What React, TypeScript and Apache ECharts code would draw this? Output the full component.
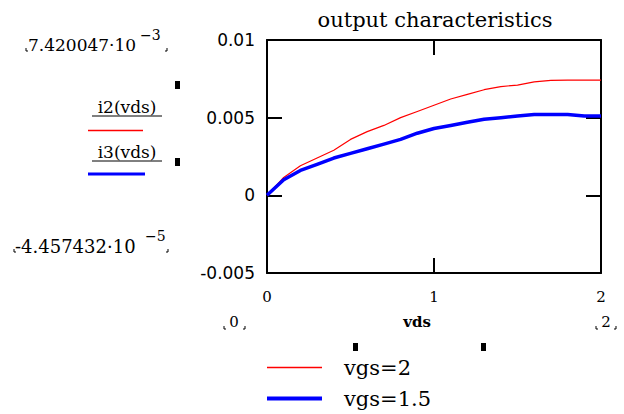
import React, { useEffect, useRef } from "react";
import * as echarts from "echarts";

const vds = [0, 0.1, 0.2, 0.3, 0.4, 0.5, 0.6, 0.7, 0.8, 0.9, 1.0, 1.1, 1.2, 1.3, 1.4, 1.5, 1.6, 1.7, 1.8, 1.9, 2.0];
const i2 = [0, 0.00115, 0.0019, 0.0024, 0.0029, 0.0036, 0.0041, 0.0045, 0.005, 0.0054, 0.0058, 0.0062, 0.0065, 0.0068, 0.007, 0.0071, 0.0073, 0.0074, 0.00742, 0.00742, 0.00742];
const i3 = [0, 0.001, 0.0016, 0.002, 0.0024, 0.0027, 0.003, 0.0033, 0.0036, 0.004, 0.0043, 0.0045, 0.0047, 0.0049, 0.005, 0.0051, 0.0052, 0.0052, 0.0052, 0.0051, 0.0051];
const seriesNames = ["vgs=2", "vgs=1.5"];
const traceNames = ["i2(vds)", "i3(vds)"];
const titleText = "output characteristics";
const xName = "vds";
const yMaxMant = "7.420047·10";
const yMaxExp = "−3";
const yMinMant = "-4.457432·10";
const yMinExp = "−5";
const xRangeLabels = ["0", "2"];

const SERIF = "DejaVu Serif";
const SANS = "DejaVu Sans";

function corner(x: number, y: number, left: boolean) {
  return {
    type: "polyline",
    shape: {
      points: left
        ? [[x, y - 3], [x, y], [x + 2, y]]
        : [[x - 2, y], [x, y], [x, y - 3]],
    },
    style: { stroke: "#000", lineWidth: 1, fill: null },
  };
}

export default function App() {
  const ref = useRef<HTMLDivElement>(null);
  useEffect(() => {
    if (!ref.current) return;
    const chart = echarts.init(ref.current, null, { renderer: "svg" });
    const axisLine = { show: true, onZero: false, lineStyle: { color: "#000", width: 2 } };
    const tick = { show: true, inside: true, length: 15, lineStyle: { color: "#000", width: 2 } };
    chart.setOption({
      animation: false,
      backgroundColor: "#fff",
      title: {
        text: titleText,
        left: 430,
        textAlign: "center",
        top: 4,
        textStyle: { fontFamily: SERIF, fontSize: 21, fontWeight: "normal", color: "#000" },
      },
      grid: { left: 267, right: 23, top: 40, bottom: 141 },
      legend: {
        orient: "vertical",
        left: 265,
        top: 357,
        itemWidth: 55,
        itemHeight: 20,
        itemGap: 10,
        padding: 0,
        data: [
          { name: seriesNames[0], itemStyle: { opacity: 0 }, lineStyle: { width: 1.5, color: "#ff0000" } },
          { name: seriesNames[1], itemStyle: { opacity: 0 }, lineStyle: { width: 4, color: "#0000ff" } },
        ],
        textStyle: { fontFamily: SERIF, fontSize: 21, color: "#000", padding: [0, 0, 0, 17] },
      },
      xAxis: [
        {
          type: "value",
          min: 0,
          max: 2,
          interval: 1,
          axisLine,
          axisTick: tick,
          splitLine: { show: false },
          axisLabel: { margin: 16, fontFamily: SERIF, fontSize: 15, color: "#000" },
        },
        {
          type: "value",
          position: "top",
          min: 0,
          max: 2,
          interval: 1,
          axisLine,
          axisTick: tick,
          splitLine: { show: false },
          axisLabel: { show: false },
        },
      ],
      yAxis: [
        {
          type: "value",
          min: -0.005,
          max: 0.01,
          interval: 0.005,
          axisLine,
          axisTick: tick,
          splitLine: { show: false },
          axisLabel: {
            margin: 12,
            fontFamily: SANS,
            fontSize: 17,
            color: "#000",
            formatter: (v: number) => String(+v.toFixed(3)),
          },
        },
        {
          type: "value",
          position: "right",
          min: -0.005,
          max: 0.01,
          interval: 0.005,
          axisLine,
          axisTick: tick,
          splitLine: { show: false },
          axisLabel: { show: false },
        },
      ],
      series: [
        {
          name: seriesNames[0],
          type: "line",
          data: vds.map((x, k) => [x, i2[k]]),
          symbol: "none",
          lineStyle: { color: "#ff0000", width: 1.2 },
          itemStyle: { color: "#ff0000" },
          z: 3,
        },
        {
          name: seriesNames[1],
          type: "line",
          data: vds.map((x, k) => [x, i3[k]]),
          symbol: "none",
          lineStyle: { color: "#0000ff", width: 3.5 },
          itemStyle: { color: "#0000ff" },
          z: 4,
        },
      ],
      graphic: [
        { type: "text", x: 28, y: 45, style: { text: yMaxMant, font: `17px '${SERIF}'`, fill: "#000", verticalAlign: "middle" } },
        { type: "text", x: 140, y: 35, style: { text: yMaxExp, font: `14px '${SERIF}'`, fill: "#000", verticalAlign: "middle" } },
        corner(26, 51, true),
        corner(167, 51, false),
        { type: "rect", shape: { x: 175, y: 81, width: 5, height: 8 }, style: { fill: "#000" } },
        { type: "text", x: 127, y: 107, style: { text: traceNames[0], font: `17px '${SERIF}'`, fill: "#000", align: "center", verticalAlign: "middle" } },
        { type: "line", shape: { x1: 92, y1: 116, x2: 162, y2: 116 }, style: { stroke: "#000", lineWidth: 1 } },
        { type: "line", shape: { x1: 88, y1: 130.5, x2: 143, y2: 130.5 }, style: { stroke: "#ff0000", lineWidth: 1.5 } },
        { type: "text", x: 127, y: 152, style: { text: traceNames[1], font: `17px '${SERIF}'`, fill: "#000", align: "center", verticalAlign: "middle" } },
        { type: "line", shape: { x1: 92, y1: 161, x2: 162, y2: 161 }, style: { stroke: "#000", lineWidth: 1 } },
        { type: "line", shape: { x1: 88, y1: 174, x2: 145, y2: 174 }, style: { stroke: "#0000ff", lineWidth: 3 } },
        { type: "rect", shape: { x: 175, y: 158, width: 5, height: 8 }, style: { fill: "#000" } },
        { type: "text", x: 15, y: 246, style: { text: yMinMant, font: `18px '${SERIF}'`, fill: "#000", verticalAlign: "middle" } },
        { type: "text", x: 145, y: 236, style: { text: yMinExp, font: `14px '${SERIF}'`, fill: "#000", verticalAlign: "middle" } },
        corner(14, 252, true),
        corner(168, 252, false),
        { type: "text", x: 234, y: 322, style: { text: xRangeLabels[0], font: `15px '${SERIF}'`, fill: "#000", align: "center", verticalAlign: "middle" } },
        corner(224, 329, true),
        corner(245, 329, false),
        { type: "text", x: 417, y: 322, style: { text: xName, font: `bold 15px '${SERIF}'`, fill: "#000", align: "center", verticalAlign: "middle" } },
        { type: "text", x: 606, y: 322, style: { text: xRangeLabels[1], font: `15px '${SERIF}'`, fill: "#000", align: "center", verticalAlign: "middle" } },
        corner(596, 329, true),
        corner(616, 329, false),
        { type: "rect", shape: { x: 353, y: 343, width: 5, height: 8 }, style: { fill: "#000" } },
        { type: "rect", shape: { x: 481, y: 343, width: 5, height: 8 }, style: { fill: "#000" } },
      ],
    });
    return () => chart.dispose();
  }, []);
  return <div ref={ref} style={{ width: 624, height: 414, position: "absolute", left: 0, top: 0 }} />;
}
